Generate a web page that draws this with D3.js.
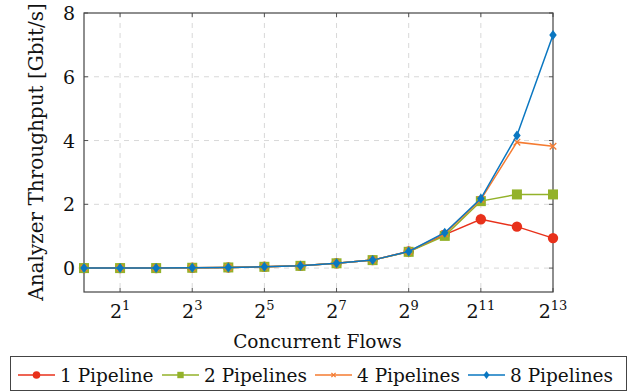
<!DOCTYPE html>
<html lang="en">
<head>
  <meta charset="UTF-8" />
  <title>Analyzer Throughput</title>
  <style>
    body { margin: 0; background: #fff; }
  </style>
</head>
<body>
  <svg id="chart" width="632" height="392" font-family="DejaVu Serif, serif"></svg>

  <script src="https://d3js.org/d3.v7.min.js"></script>
  <script>
    // concurrent flows as powers of two: 2^0 .. 2^13
    const exponents = [0, 1, 2, 3, 4, 5, 6, 7, 8, 9, 10, 11, 12, 13];
    const seriesNames = ["1 Pipeline", "2 Pipelines", "4 Pipelines", "8 Pipelines"];
    const pipe1 = [0, 0, 0, 0.01, 0.02, 0.04, 0.07, 0.15, 0.25, 0.52, 1.05, 1.53, 1.30, 0.94];
    const pipe2 = [0, 0, 0, 0.01, 0.02, 0.04, 0.07, 0.15, 0.25, 0.51, 1.01, 2.10, 2.31, 2.31];
    const pipe4 = [0, 0, 0, 0.01, 0.02, 0.04, 0.07, 0.15, 0.25, 0.52, 1.08, 2.15, 3.95, 3.82];
    const pipe8 = [0, 0, 0, 0.01, 0.02, 0.04, 0.07, 0.15, 0.25, 0.52, 1.11, 2.18, 4.16, 7.31];
    const xTickExps = [1, 3, 5, 7, 9, 11, 13];
    const yTicks = [0, 2, 4, 6, 8];

    const colors = ["#e8311b", "#93b22a", "#f57b31", "#0a77c1"];
    const markers = ["circle", "square", "cross", "diamond"];
    const allSeries = [pipe1, pipe2, pipe4, pipe8];

    const plot = { left: 84, right: 553, top: 13, bottom: 292 };
    const svg = d3.select("#chart");

    const x = d3.scaleLog().base(2)
      .domain([1, Math.pow(2, 13)])
      .range([plot.left, plot.right]);

    const y = d3.scaleLinear()
      .domain([-0.75, 8])
      .range([plot.bottom, plot.top]);

    // grid
    const grid = svg.append("g").attr("stroke", "#d8d8d8").attr("stroke-dasharray", "5,5");
    grid.selectAll(".vg").data(xTickExps.filter(e => e < 13)).join("line")
      .attr("x1", e => x(2 ** e)).attr("x2", e => x(2 ** e))
      .attr("y1", plot.top).attr("y2", plot.bottom);
    grid.selectAll(".hg").data(yTicks.filter(v => v < 8)).join("line")
      .attr("x1", plot.left).attr("x2", plot.right)
      .attr("y1", d => y(d)).attr("y2", d => y(d));

    // inward tick marks on all four sides
    const ticks = svg.append("g").attr("stroke", "#555").attr("stroke-width", 1);
    xTickExps.forEach(e => {
      const xv = x(2 ** e);
      ticks.append("line").attr("x1", xv).attr("x2", xv).attr("y1", plot.bottom).attr("y2", plot.bottom - 4);
      ticks.append("line").attr("x1", xv).attr("x2", xv).attr("y1", plot.top).attr("y2", plot.top + 4);
    });
    yTicks.forEach(v => {
      const yv = y(v);
      ticks.append("line").attr("x1", plot.left).attr("x2", plot.left + 4).attr("y1", yv).attr("y2", yv);
      ticks.append("line").attr("x1", plot.right).attr("x2", plot.right - 4).attr("y1", yv).attr("y2", yv);
    });

    // frame
    svg.append("rect")
      .attr("x", plot.left).attr("y", plot.top)
      .attr("width", plot.right - plot.left).attr("height", plot.bottom - plot.top)
      .attr("fill", "none").attr("stroke", "#444").attr("stroke-width", 1.2);

    // tick labels
    const xl = svg.append("g").selectAll("text").data(xTickExps).join("text")
      .attr("x", e => x(2 ** e))
      .attr("y", plot.bottom + 26)
      .attr("text-anchor", "middle")
      .attr("font-size", 19)
      .attr("fill", "#111");
    xl.append("tspan").text("2");
    xl.append("tspan").attr("dy", -8).attr("font-size", 13).text(e => e);

    svg.append("g").selectAll("text").data(yTicks).join("text")
      .attr("x", plot.left - 9)
      .attr("y", d => y(d) + 7)
      .attr("text-anchor", "end")
      .attr("font-size", 19)
      .attr("fill", "#111")
      .text(d => d);

    // axis titles
    svg.append("text")
      .attr("x", (plot.left + plot.right) / 2 - 1)
      .attr("y", 348)
      .attr("text-anchor", "middle")
      .attr("font-size", 18.5)
      .attr("fill", "#111")
      .text("Concurrent Flows");

    svg.append("text")
      .attr("transform", "translate(43, 152) rotate(-90)")
      .attr("text-anchor", "middle")
      .attr("font-size", 20)
      .attr("fill", "#111")
      .text("Analyzer Throughput [Gbit/s]");

    function drawMarker(g, type, color, size) {
      if (type === "circle") {
        g.append("circle").attr("r", size).attr("fill", color);
      } else if (type === "square") {
        g.append("rect").attr("x", -size).attr("y", -size)
          .attr("width", size * 2).attr("height", size * 2).attr("fill", color);
      } else if (type === "cross") {
        const s = size * 0.6;
        g.append("path").attr("d", `M${-s},${-s}L${s},${s}M${-s},${s}L${s},${-s}`)
          .attr("stroke", color).attr("stroke-width", 1.3);
      } else {
        g.append("path").attr("d", `M0,${-size}L${size * 0.75},0L0,${size}L${-size * 0.75},0Z`)
          .attr("fill", color);
      }
    }
    const markerSize = [5.2, 5, 5.5, 5];

    const line = d3.line()
      .x((d, i) => x(2 ** exponents[i]))
      .y(d => y(d));

    allSeries.forEach((vals, k) => {
      svg.append("path")
        .datum(vals)
        .attr("d", line)
        .attr("fill", "none")
        .attr("stroke", colors[k])
        .attr("stroke-width", 1.5);
      const pts = svg.append("g");
      vals.forEach((v, i) => {
        const g = pts.append("g").attr("transform", `translate(${x(2 ** exponents[i])},${y(v)})`);
        drawMarker(g, markers[k], colors[k], markerSize[k]);
      });
    });

    // legend
    const legend = svg.append("g");
    legend.append("rect")
      .attr("x", 10.5).attr("y", 356.5).attr("width", 616).attr("height", 34)
      .attr("fill", "#fff").attr("stroke", "#444");
    const legendX = [18, 162, 315, 468];
    const legendMarkerSize = [3.8, 3.2, 3.5, 4];
    seriesNames.forEach((name, k) => {
      const g = legend.append("g").attr("transform", `translate(${legendX[k]}, 375)`);
      g.append("line").attr("x1", 0).attr("x2", 37).attr("stroke", colors[k]).attr("stroke-width", 1.5);
      const m = g.append("g").attr("transform", "translate(18.5,0)");
      drawMarker(m, markers[k], colors[k], legendMarkerSize[k]);
      g.append("text").attr("x", 42).attr("y", 6.5).attr("font-size", 18.5).attr("fill", "#111").text(name);
    });
  </script>
</body>
</html>
